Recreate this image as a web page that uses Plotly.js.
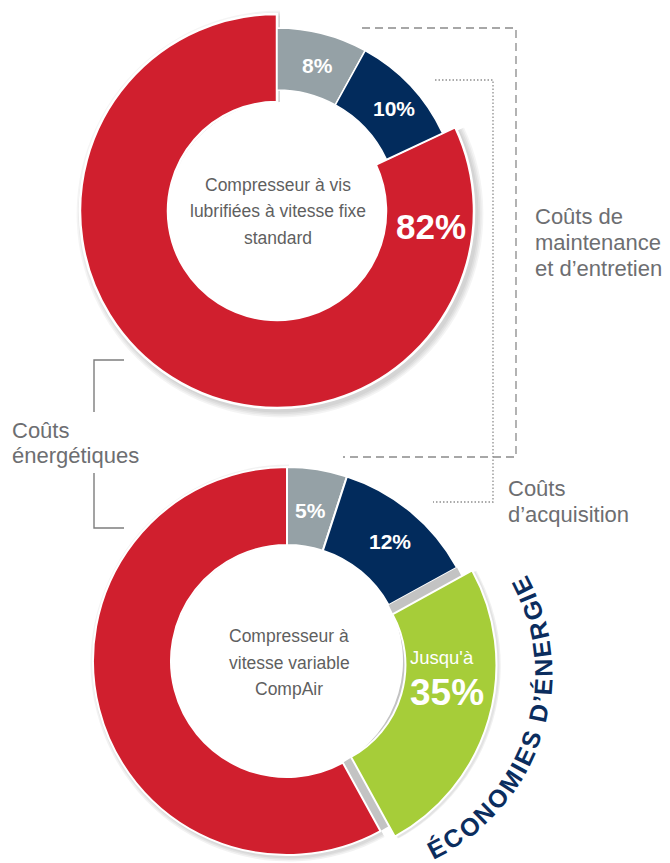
<!DOCTYPE html>
<html>
<head>
<meta charset="utf-8">
<script src="https://cdn.plot.ly/plotly-3.0.1.min.js"></script>
<style>html,body{margin:0;padding:0;background:#fff;}#chart{width:670px;height:863px;}</style>
</head>
<body>
<div id="chart"></div>
<script>
// ---------------- DATA ----------------
const topCategories = ["Coûts d’acquisition", "Coûts de maintenance et d’entretien", "Coûts énergétiques"];
const topValues = [8, 10, 82];
const topLabels = ["8%", "10%", "82%"];

const bottomCategories = ["Coûts d’acquisition", "Coûts de maintenance et d’entretien", "Économies d’énergie", "Coûts énergétiques"];
const bottomValues = [5, 12, 25, 58];
const bottomLabels = ["5%", "12%", "35%", ""];
const savingsPrefix = "Jusqu'à";

const topCenterLines = ["Compresseur à vis", "lubrifiées à vitesse fixe", "standard"];
const bottomCenterLines = ["Compresseur à", "vitesse variable", "CompAir"];
const arcTitle = "ÉCONOMIES D’ÉNERGIE";
const sideEnergy = ["Coûts", "énergétiques"];
const sideMaint = ["Coûts de", "maintenance", "et d’entretien"];
const sideAcq = ["Coûts", "d’acquisition"];

// ---------------- STYLE / LAYOUT HELPERS ----------------
const W = 670, H = 863;
const C_ACQ = "#95a1a6", C_MAINT = "#022b5c", C_ENERGY = "#d01f2e", C_SAVE = "#a6cd39", C_SLOT = "#c3c3c3";
const T = "rgba(0,0,0,0)";
const FONT = "Liberation Sans, Arial, sans-serif";

function dom(cx, cy, r) {
  return {x: [(cx - r) / W, (cx + r) / W], y: [1 - (cy + r) / H, 1 - (cy - r) / H]};
}
function ring(labels, values, cols, cx, cy, ro, ri, lw) {
  return {
    type: "pie", labels: labels, values: values, sort: false, direction: "clockwise", rotation: 0,
    hole: ri / ro, domain: dom(cx, cy, ro),
    marker: {colors: cols, line: {color: "#ffffff", width: cols.map(c => (c === T || c === C_SLOT) ? 0 : lw)}},
    textinfo: "none", hoverinfo: "skip", showlegend: false
  };
}

const traces = [];
// top chart geometry
const TC = {cx: 277, cy: 211, ro: 197, ri: 109, ro2: 183, ri2: 121};
for (let k = 1; k <= 4; k++) {
  traces.push(ring(topCategories, topValues, [T, T, "rgba(0,0,0,0.045)"], TC.cx + 3, TC.cy + 3, TC.ro + k * 1.6, TC.ri + 3, 0));
}
traces.push(ring(topCategories, topValues, [T, T, C_ENERGY], TC.cx, TC.cy, TC.ro, TC.ri, 2.5));
traces.push(ring(topCategories, topValues, [C_ACQ, C_MAINT, T], TC.cx, TC.cy, TC.ro2, TC.ri2, 1.5));

// bottom chart geometry
const BC = {cx: 287, cy: 661, ro: 194, ri: 116};
for (let k = 1; k <= 3; k++) {
  traces.push(ring(bottomCategories, bottomValues, [T, T, T, "rgba(0,0,0,0.05)"], BC.cx + 2, BC.cy + 2, BC.ro + k * 1.5, BC.ri + 2, 0));
}
traces.push(ring(bottomCategories, bottomValues, [C_ACQ, C_MAINT, C_SLOT, C_ENERGY], BC.cx, BC.cy, BC.ro, BC.ri, 2));

// pulled savings slice: offset along its mid angle
const before = bottomValues[0] + bottomValues[1];
const total = bottomValues.reduce((a, b) => a + b, 0);
const midAng = (before + bottomValues[2] / 2) / total * 2 * Math.PI;
const pull = 14;
const GC = {cx: BC.cx + pull * Math.sin(midAng), cy: BC.cy - pull * Math.cos(midAng), ro: 196, ri: 105};
traces.push(ring(bottomCategories, bottomValues, [T, T, "rgba(0,0,0,0.06)", T], GC.cx + 3, GC.cy + 1, GC.ro + 1.5, GC.ri, 0));
traces.push(ring(bottomCategories, bottomValues, [T, T, "rgba(0,0,0,0.05)", T], GC.cx + 2, GC.cy + 1, GC.ro + 1, GC.ri, 0));
traces.push(ring(bottomCategories, bottomValues, [T, T, C_SAVE, T], GC.cx, GC.cy, GC.ro, GC.ri, 2));

// bracket lines (pixel coordinates on hidden axes)
function line(xs, ys, color, dash, w) {
  return {type: "scatter", mode: "lines", x: xs, y: ys, line: {color: color, width: w, dash: dash}, hoverinfo: "skip", showlegend: false};
}
traces.push(line([124, 94, 94], [360, 360, 412], "#7d7d7d", "solid", 1.4));
traces.push(line([94, 94, 124], [473, 528, 528], "#7d7d7d", "solid", 1.4));
traces.push(line([362, 516, 516, 343], [28, 28, 457, 457], "#8a8a8a", "8px,5px", 1.3));
traces.push(line([435, 493, 493, 433], [80, 80, 502, 502], "#8f8f8f", "1.5px,2px", 1.3));

// ---------------- ANNOTATIONS ----------------
const ann = [];
function txt(x, y, text, size, color, opts) {
  ann.push(Object.assign({xref: "x", yref: "y", x: x, y: y, text: text, showarrow: false,
    xanchor: "center", yanchor: "middle", font: {family: FONT, size: size, color: color}}, opts || {}));
}
function bold(t) { return "<b>" + t + "</b>"; }

// slice labels
txt(317, 65.5, bold(topLabels[0]), 21, "#ffffff");
txt(394, 108, bold(topLabels[1]), 21, "#ffffff");
txt(431, 226, bold(topLabels[2]), 35, "#ffffff");
txt(310, 510, bold(bottomLabels[0]), 21, "#ffffff");
txt(389.5, 541, bold(bottomLabels[1]), 21, "#ffffff");
txt(442, 657.5, savingsPrefix, 18.5, "#ffffff");
txt(446.5, 692, bold(bottomLabels[2]), 37, "#ffffff");

// center texts
topCenterLines.forEach((t, i) => txt(278, 184.5 + i * 26.5, t, 17.5, "#5f5f5f"));
bottomCenterLines.forEach((t, i) => txt(289, 636 + i * 26.7, t, 17.5, "#5f5f5f"));

// side labels
sideEnergy.forEach((t, i) => txt(10, 430 + i * 25.5, t, 22, "#6d6e71", {xanchor: "left"}));
sideMaint.forEach((t, i) => txt(533, 216 + i * 26, t, 22, "#6d6e71", {xanchor: "left"}));
sideAcq.forEach((t, i) => txt(506, 488 + i * 26, t, 22, "#6d6e71", {xanchor: "left"}));

// curved title along an arc
(function () {
  const fs = 25;
  const ctx = document.createElement("canvas").getContext("2d");
  ctx.font = "bold " + fs + "px Liberation Sans";
  const chars = Array.from(arcTitle);
  const w = chars.map(c => ctx.measureText(c).width);
  const acx = 346, acy = 673, R = 197;
  const phiS = 152.6, phiE = 63.6;
  const L = R * (phiS - phiE) * Math.PI / 180;
  let base = 0;
  for (let i = 0; i < chars.length - 1; i++) base += (w[i] + w[i + 1]) / 2;
  const trk = (L - base) / (chars.length - 1);
  let s = 0;
  for (let i = 0; i < chars.length; i++) {
    if (i > 0) s += (w[i - 1] + w[i]) / 2 + trk;
    const phi = phiS - (s / R) * 180 / Math.PI;
    const pr = phi * Math.PI / 180;
    if (chars[i] === " ") continue;
    txt(acx + R * Math.sin(pr), acy - R * Math.cos(pr), bold(chars[i]), fs, "#0b2d5e", {textangle: phi - 180});
  }
})();

const layout = {
  width: W, height: H, margin: {l: 0, r: 0, t: 0, b: 0},
  paper_bgcolor: "#ffffff", plot_bgcolor: "rgba(0,0,0,0)", showlegend: false,
  xaxis: {range: [0, W], visible: false, fixedrange: true},
  yaxis: {range: [H, 0], visible: false, fixedrange: true},
  annotations: ann
};
Plotly.newPlot("chart", traces, layout, {staticPlot: true, displayModeBar: false});
</script>
</body>
</html>
